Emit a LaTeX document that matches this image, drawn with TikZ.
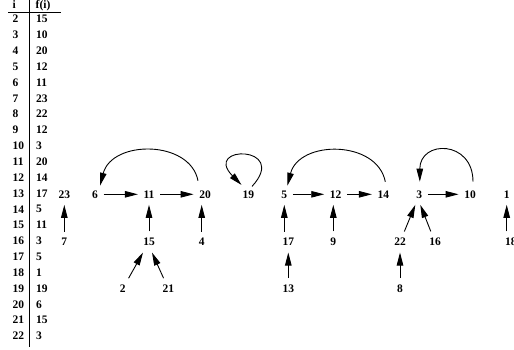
\documentclass[tikz,border=0pt]{standalone}
\usepackage{fontspec}
\setmainfont{Liberation Serif}
\usetikzlibrary{arrows.meta}
\begin{document}
\begin{tikzpicture}[x=1pt,y=-1pt,
  every node/.style={font=\fontsize{11.5}{13}\selectfont\bfseries},
  v/.style={inner xsep=5.5pt,inner ysep=6.5pt},
  tl/.style={inner sep=0pt},
  arr/.style={-{Triangle[length=13pt,width=6.5pt]}, line width=0.9pt},
  rule/.style={line width=0.9pt}
]
\useasboundingbox (0,0) rectangle (514,349);
\clip (0,0) rectangle (514,349);
% table
\node[tl,anchor=base west] (hi) at (12.5,8.5) {i};
\node[tl,anchor=base west] (hf) at (35.5,8.5) {f(i)};
\foreach \i/\f [count=\k from 0] in {2/15,3/10,4/20,5/12,6/11,7/23,8/22,9/12,10/3,11/20,12/14,13/17,14/5,15/11,16/3,17/5,18/1,19/19,20/6,21/15,22/3}{
  \node[tl,anchor=west] (ti\i) at (12.5,19+15.85*\k) {\i};
  \node[tl,anchor=west] (tf\i) at (36,19+15.85*\k) {\f};
}
\coordinate (rl) at (8,12.3);
\coordinate (rr) at (61,12.3);
\coordinate (vt) at (29.3,0);
\coordinate (vb) at (29.3,346.5);
\draw[rule] (rl) -- (rr);
\draw[rule] (vt) -- (vb);
% graph nodes
\node[v] (n23) at (64.3,194.3) {23};
\node[v] (n6) at (95,194.3) {6};
\node[v] (n11) at (149,194.3) {11};
\node[v] (n20) at (205,194.3) {20};
\node[v] (n7) at (64.3,242) {7};
\node[v] (n15) at (149,242) {15};
\node[v] (n4) at (201.7,242) {4};
\node[v] (n2) at (122.7,288.7) {2};
\node[v] (n21) at (168.3,288.7) {21};
\node[v] (n19) at (248.3,194.3) {19};
\node[v] (n5) at (284.3,194.3) {5};
\node[v] (n12) at (335.7,194.3) {12};
\node[v] (n14) at (383.3,194.3) {14};
\node[v] (n17) at (288.3,242) {17};
\node[v] (n9) at (333.3,242) {9};
\node[v] (n13) at (288.3,288.7) {13};
\node[v] (n3) at (419.3,194.3) {3};
\node[v] (n10) at (470,194.3) {10};
\node[v] (n1) at (506.7,194.3) {1};
\node[v] (n22) at (400,242) {22};
\node[v] (n16) at (435,242) {16};
\node[v] (n8) at (400,288.7) {8};
\node[v] (n18) at (510.8,242) {18};
% edges
\draw[arr] (n7) -- (n23);
\draw[arr] (n6) -- (n11);
\draw[arr] (n11) -- (n20);
\draw[arr] (n15) -- (n11);
\draw[arr] (n4.north) -- (n4.north |- n20.south);
\draw[arr] (n2) -- ([xshift=-6pt]n15.south);
\draw[arr] (n21) -- ([xshift=3pt]n15.south);
\draw[arr] ([shift={(-7,-3)}]n20.north) .. controls +(-8,-41) and +(12,-46) .. ([shift={(5,2)}]n6.north);
\draw[arr] ([shift={(3.7,2.7)}]n19.north) .. controls +(38,-41.5) and +(-39.5,-40) .. ([shift={(-6.8,1.2)}]n19.north);
\draw[arr] (n5) -- (n12);
\draw[arr] (n12) -- (n14);
\draw[arr] (n17.north -| n5) -- (n5.south);
\draw[arr] (n9.north) -- (n9.north |- n12.south);
\draw[arr] (n13) -- (n17);
\draw[arr] ([shift={(2,-2)}]n14.north) .. controls +(-8,-42) and +(12,-46) .. ([shift={(3,2)}]n5.north);
\draw[arr] (n3) -- (n10);
\draw[arr] ([shift={(3,-2)}]n10.north) .. controls +(0,-42) and +(0,-42) .. ([shift={(0.5,-2)}]n3.north);
\draw[arr] (n22) -- ([xshift=-4pt]n3.south);
\draw[arr] (n16) -- ([xshift=1pt]n3.south);
\draw[arr] (n8) -- (n22);
\draw[arr] (n18.north -| n1) -- (n1.south);
\end{tikzpicture}
\end{document}
